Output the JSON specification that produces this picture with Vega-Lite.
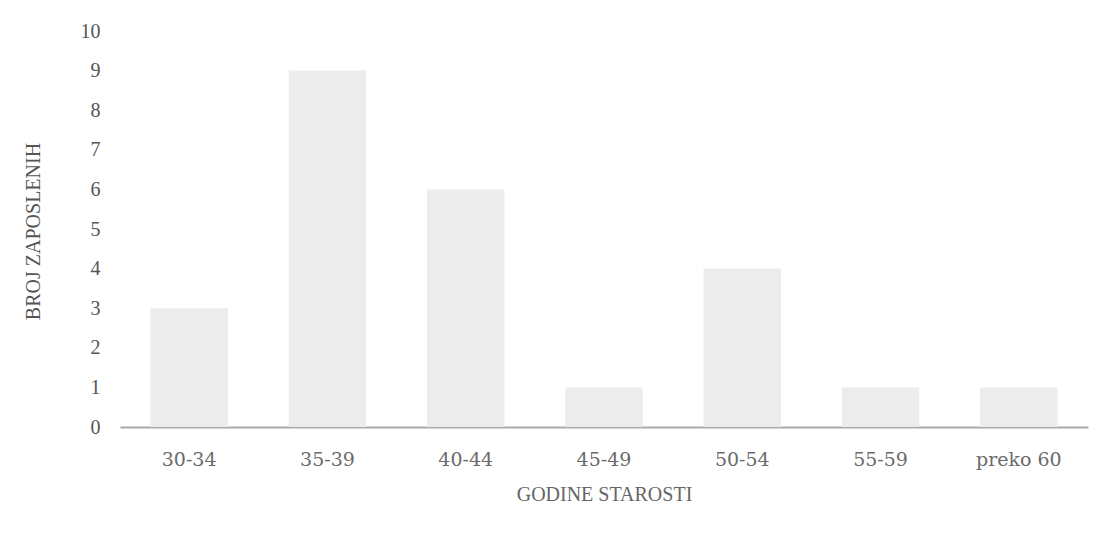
{
  "$schema": "https://vega.github.io/schema/vega-lite/v6.json",
  "autosize": {"type": "none"},
  "width": 968,
  "height": 396,
  "padding": {"left": 120, "top": 31, "right": 13, "bottom": 106},
  "background": "white",
  "data": {"values": [
    {"grupa": "30-34", "broj": 3},
    {"grupa": "35-39", "broj": 9},
    {"grupa": "40-44", "broj": 6},
    {"grupa": "45-49", "broj": 1},
    {"grupa": "50-54", "broj": 4},
    {"grupa": "55-59", "broj": 1},
    {"grupa": "preko 60", "broj": 1}
  ]},
  "mark": {"type": "bar", "color": "#ececec"},
  "encoding": {
    "x": {
      "field": "grupa", "type": "nominal", "sort": null,
      "scale": {"paddingInner": 0.44, "paddingOuter": 0.22},
      "axis": {
        "title": "GODINE STAROSTI",
        "labelAngle": 0,
        "ticks": false,
        "domainColor": "#aaaaaa",
        "domainWidth": 2,
        "labelFont": "DejaVu Serif",
        "labelFontSize": 19,
        "labelColor": "#6a6a6a",
        "labelPadding": 23,
        "titleFont": "Liberation Serif",
        "titleFontSize": 20,
        "titleFontWeight": "normal",
        "titleColor": "#666666",
        "titleBaseline": "middle",
        "titleY": 67
      }
    },
    "y": {
      "field": "broj", "type": "quantitative",
      "scale": {"domain": [0, 10]},
      "axis": {
        "title": "BROJ ZAPOSLENIH",
        "values": [0,1,2,3,4,5,6,7,8,9,10],
        "grid": false,
        "domain": false,
        "ticks": false,
        "labelFont": "Liberation Serif",
        "labelFontSize": 20,
        "labelColor": "#555555",
        "labelPadding": 20,
        "titleFont": "Liberation Serif",
        "titleFontSize": 20,
        "titleFontWeight": "normal",
        "titleColor": "#555555",
        "titleX": -87,
        "titleY": 200,
        "titleAngle": -90,
        "titleBaseline": "middle",
        "titleAlign": "center"
      }
    }
  },
  "config": {"view": {"stroke": null}}
}
